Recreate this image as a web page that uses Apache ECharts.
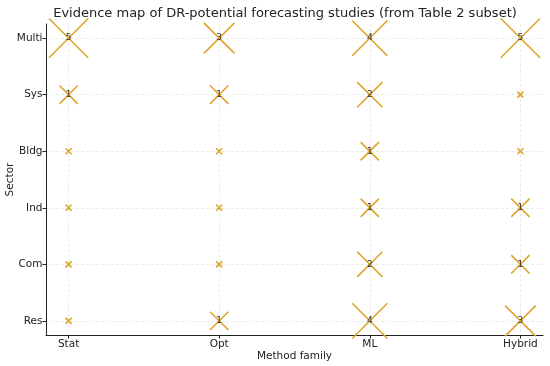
<!DOCTYPE html>
<html><head><meta charset="utf-8">
<script src="https://cdn.jsdelivr.net/npm/echarts@6/dist/echarts.min.js"></script>
<style>html,body{margin:0;padding:0;background:#fff}#c{width:550px;height:366px}</style>
</head><body><div id="c"></div>
<script>
const methods = ['Stat', 'Opt', 'ML', 'Hybrid'];
const sectors = ['Res', 'Com', 'Ind', 'Bldg', 'Sys', 'Multi'];
const resCounts   = [0, 1, 4, 3];
const comCounts   = [0, 0, 2, 1];
const indCounts   = [0, 0, 1, 1];
const bldgCounts  = [0, 0, 1, 0];
const sysCounts   = [1, 1, 2, 0];
const multiCounts = [5, 3, 4, 5];
const countsBySector = [resCounts, comCounts, indCounts, bldgCounts, sysCounts, multiCounts];

const data = [];
countsBySector.forEach((row, si) => row.forEach((v, mi) => data.push([mi, si, v])));

const font = 'DejaVu Sans';
const chart = echarts.init(document.getElementById('c'), null, {renderer: 'canvas'});
chart.setOption({
  animation: false,
  backgroundColor: '#fff',
  title: {
    text: 'Evidence map of DR-potential forecasting studies (from Table 2 subset)',
    left: 280, top: 2, textAlign: 'center',
    textStyle: {fontFamily: font, fontSize: 13, fontWeight: 'normal', color: '#222'}
  },
  grid: {left: 46, right: 7, top: 24, bottom: 31, containLabel: false, outerBoundsMode: 'none'},
  xAxis: {
    type: 'value', min: -0.15, max: 3.15,
    name: 'Method family', nameLocation: 'middle', nameGap: 16, nameMoveOverlap: false,
    nameTextStyle: {fontFamily: font, fontSize: 10.5, color: '#222'},
    axisLine: {show: true, onZero: false, lineStyle: {color: '#222', width: 1}},
    axisTick: {show: true, length: 3.5, customValues: [0, 1, 2, 3], lineStyle: {color: '#222'}},
    axisLabel: {customValues: [0, 1, 2, 3], formatter: v => methods[Math.round(v)],
      fontFamily: font, fontSize: 10.5, color: '#222', margin: 4},
    splitLine: {show: true, lineStyle: {color: '#e6e6e6', width: 0.8, type: [3, 2]}}
  },
  yAxis: {
    type: 'value', min: -0.25, max: 5.25,
    name: 'Sector', nameLocation: 'middle', nameGap: 30, nameRotate: 90, nameMoveOverlap: false,
    nameTextStyle: {fontFamily: font, fontSize: 10.5, color: '#222'},
    axisLine: {show: true, onZero: false, lineStyle: {color: '#222', width: 1}},
    axisTick: {show: true, length: 3.5, customValues: [0, 1, 2, 3, 4, 5], lineStyle: {color: '#222'}},
    axisLabel: {customValues: [0, 1, 2, 3, 4, 5], formatter: v => sectors[Math.round(v)],
      fontFamily: font, fontSize: 10.5, color: '#222', margin: 3.5},
    splitLine: {show: true, lineStyle: {color: '#e6e6e6', width: 0.8, type: [3, 2]}}
  },
  series: [{
    type: 'scatter',
    data: data,
    symbol: 'path://M0,0L10,10M10,0L0,10',
    symbolSize: d => Math.sqrt(36 + 300 * d[2]),
    itemStyle: {color: 'rgba(0,0,0,0)', borderColor: '#DFA52A', borderWidth: 1.6, opacity: 1},
    label: {
      show: true, position: 'inside',
      formatter: p => p.data[2] > 0 ? String(p.data[2]) : '',
      fontFamily: font, fontSize: 9, color: '#333'
    },
    emphasis: {disabled: true}
  }]
});
</script></body></html>
